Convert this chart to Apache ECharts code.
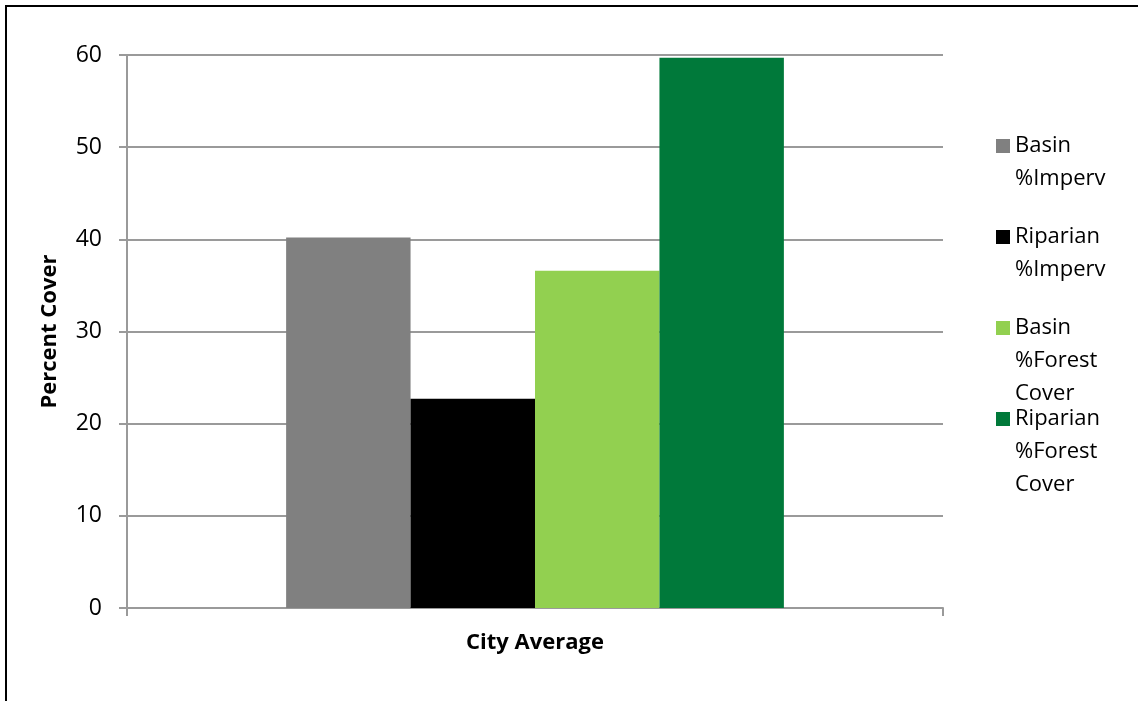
<!DOCTYPE html>
<html>
<head>
<meta charset="utf-8">
<script src="https://cdn.jsdelivr.net/npm/echarts@6/dist/echarts.min.js"></script>
<style>
  html, body { margin: 0; padding: 0; background: #fff; }
  #chart { width: 1146px; height: 701px; }
</style>
</head>
<body>
<div id="chart"></div>
<script>
// Land-cover summary: one category, four measures
const categories = ['City Average'];
const seriesNames = ['Basin\n%Imperv', 'Riparian\n%Imperv', 'Basin\n%Forest\nCover', 'Riparian\n%Forest\nCover'];
const seriesValues = [[40.2], [22.7], [36.6], [59.7]];
const seriesColors = ['#808080', '#000000', '#92d050', '#00793a'];
const yTicks = { min: 0, max: 60, interval: 10 };

const FONT = 'Open Sans';
const LINE_H = 33;
// vertical centre of each legend swatch
const legendRows = [146, 237, 328, 419];

const chart = echarts.init(document.getElementById('chart'), null, { renderer: 'canvas' });

// One legend per entry so the first line of a wrapped name sits beside its swatch:
// leading empty lines push the text block down so its middle line is the first word.
const legends = seriesNames.map((name, i) => {
  const n = name.split('\n').length;
  return {
    orient: 'vertical',
    left: 996,
    top: legendRows[i] - (2 * n - 1) * LINE_H / 2,
    padding: 0,
    itemWidth: 14,
    itemHeight: 14,
    icon: 'rect',
    selectedMode: false,
    formatter: nm => '\n'.repeat(nm.split('\n').length - 1) + nm,
    textStyle: { fontFamily: FONT, fontSize: 22, color: '#000', lineHeight: LINE_H },
    data: [name]
  };
});

const series = seriesNames.map((name, i) => ({
  name: name,
  type: 'bar',
  data: seriesValues[i],
  barGap: '0%',
  barCategoryGap: '39%',
  itemStyle: { color: seriesColors[i] },
  emphasis: { disabled: true }
}));

chart.setOption({
  animation: false,
  backgroundColor: '#ffffff',
  grid: { left: 127, right: 203, top: 55, bottom: 93, containLabel: false },
  legend: legends,
  xAxis: {
    type: 'category',
    data: categories,
    axisLine: { show: true, lineStyle: { color: '#9a9a9a', width: 2 } },
    axisTick: { show: true, length: 8, lineStyle: { color: '#9a9a9a', width: 2 } },
    axisLabel: { margin: 24, fontFamily: FONT, fontSize: 22, fontWeight: 'bold', color: '#000' }
  },
  yAxis: {
    type: 'value',
    min: yTicks.min,
    max: yTicks.max,
    interval: yTicks.interval,
    name: 'Percent Cover',
    nameLocation: 'middle',
    nameGap: 66,
    nameTextStyle: { fontFamily: FONT, fontSize: 22, fontWeight: 'bold', color: '#000' },
    axisLine: { show: true, lineStyle: { color: '#9a9a9a', width: 2 } },
    axisTick: { show: true, length: 8, lineStyle: { color: '#9a9a9a', width: 2 } },
    splitLine: { show: true, lineStyle: { color: '#9a9a9a', width: 2 } },
    axisLabel: { margin: 25, fontFamily: FONT, fontSize: 23, color: '#000' }
  },
  graphic: [
    { type: 'line', shape: { x1: 5, y1: 6, x2: 1138, y2: 6 }, style: { stroke: '#000', lineWidth: 2 } },
    { type: 'line', shape: { x1: 6, y1: 5, x2: 6, y2: 701 }, style: { stroke: '#000', lineWidth: 2 } }
  ],
  series: series
});
</script>
</body>
</html>
